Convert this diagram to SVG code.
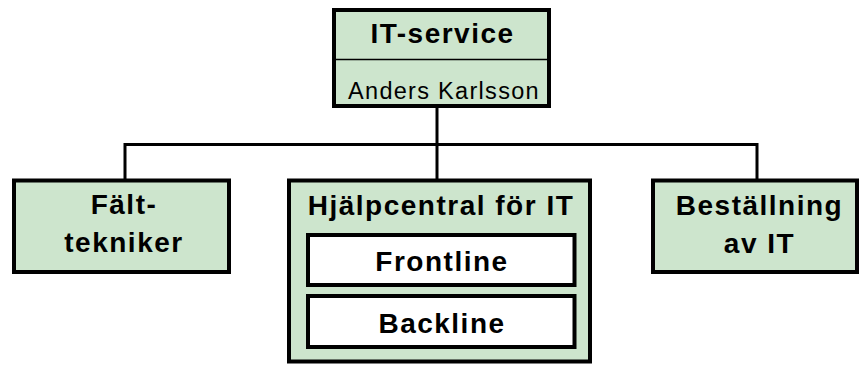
<svg xmlns="http://www.w3.org/2000/svg" width="859" height="365" viewBox="0 0 859 365">
<style>
.box{fill:#cde5cd;stroke:#000;stroke-width:4}
.inner{fill:#fff;stroke:#000;stroke-width:4}
.conn{fill:none;stroke:#000;stroke-width:3}
.b{font-family:"Liberation Sans",Arial,sans-serif;font-weight:bold;font-size:28px;letter-spacing:1.5px;text-anchor:middle;fill:#000}
.r{font-family:"Liberation Sans",Arial,sans-serif;font-size:23.5px;letter-spacing:1.3px;text-anchor:middle;fill:#000}
</style>
<rect width="859" height="365" fill="#fff"/>
<g id="connectors">
<path class="conn" d="M437 106V181"/>
<path class="conn" d="M125 180V144.5H757V180"/>
</g>
<g id="it-service">
<rect class="box" x="334" y="10" width="215" height="96"/>
<line x1="334" y1="59.5" x2="549" y2="59.5" stroke="#000" stroke-width="1.5"/>
<text class="b" x="442.5" y="43">IT-service</text>
<text class="r" x="444" y="99">Anders Karlsson</text>
</g>
<g id="falttekniker">
<rect class="box" x="14" y="180.5" width="215" height="91.5"/>
<text class="b" x="124" y="214">Fält-</text>
<text class="b" x="124" y="252">tekniker</text>
</g>
<g id="hjalpcentral">
<rect class="box" x="289" y="180.5" width="301" height="181"/>
<text class="b" x="441" y="215">Hjälpcentral för IT</text>
</g>
<g id="frontline">
<rect class="inner" x="308" y="235" width="266.5" height="50"/>
<text class="b" x="442" y="271">Frontline</text>
</g>
<g id="backline">
<rect class="inner" x="308" y="296" width="266.5" height="51"/>
<text class="b" x="442" y="333">Backline</text>
</g>
<g id="bestallning">
<rect class="box" x="653" y="180.5" width="204" height="91.5"/>
<text class="b" x="759.5" y="215">Beställning</text>
<text class="b" x="759.5" y="253">av IT</text>
</g>
</svg>
